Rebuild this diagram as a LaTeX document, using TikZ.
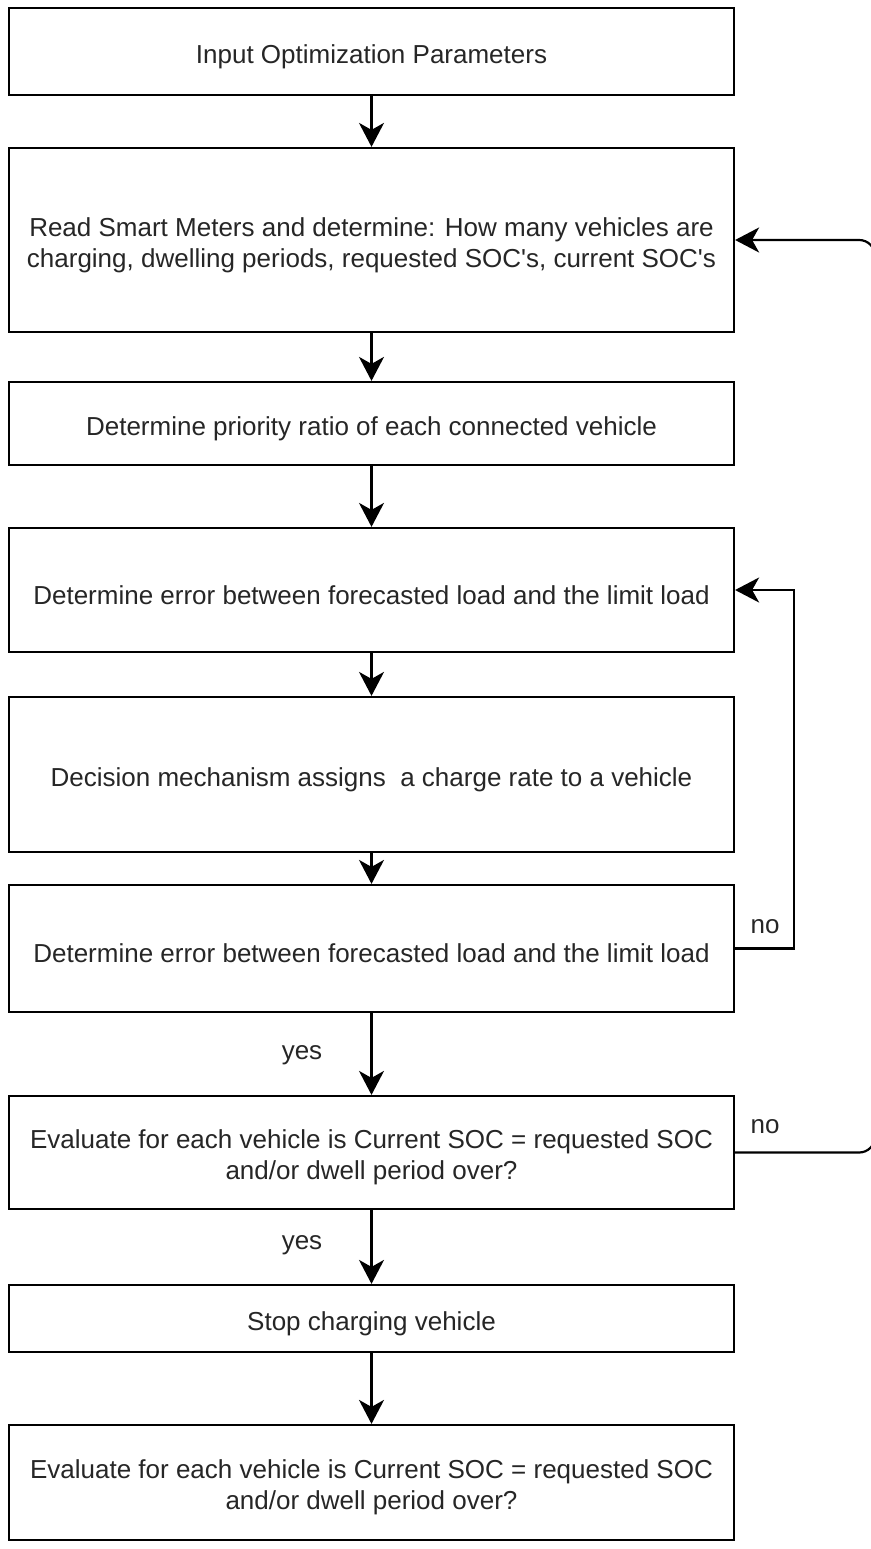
\documentclass[tikz,border=0pt]{standalone}
\usepackage{fontspec}
\setmainfont{Liberation Sans}[Ligatures=TeXOff]
\usetikzlibrary{arrows.meta}
\definecolor{ink}{HTML}{262626}
\tikzset{
  box/.style={draw=black, line width=2.2pt, fill=white, minimum width=725pt,
              inner sep=0pt},
  txt/.style={text=ink, inner sep=0pt, align=center,
              font=\fontsize{26}{31}\selectfont},
  arr/.style={draw=black, line width=2.2pt,
              -{Stealth[length=24pt,width=25pt,inset=7pt]}},
  lbl/.style={text=ink, inner sep=0pt, font=\fontsize{26}{31}\selectfont}
}
\begin{document}
\begin{tikzpicture}[x=1pt,y=-1pt]
\useasboundingbox (0,0) rectangle (870,1549);

% process steps, top to bottom
\node[box, minimum height=87pt]  (b1) at (371.5,51.5)   {};
\node[box, minimum height=184pt] (b2) at (371.5,240)    {};
\node[box, minimum height=83pt]  (b3) at (371.5,423.5)  {};
\node[box, minimum height=124pt] (b4) at (371.5,590)    {};
\node[box, minimum height=155pt] (b5) at (371.5,774.5)  {};
\node[box, minimum height=127pt] (b6) at (371.5,948.5)  {};
\node[box, minimum height=113pt] (b7) at (371.5,1152.5) {};
\node[box, minimum height=67pt]  (b8) at (371.5,1318.5) {};
\node[box, minimum height=115pt] (b9) at (371.5,1482.5) {};

% step texts, set a little below each box centre
\node[txt] (t1) at ([yshift=-5pt]b1.center) {Input Optimization Parameters};
\node[txt] (t2) at ([yshift=-5pt]b2.center) {Read Smart Meters and determine: How many vehicles are\\charging, dwelling periods, requested SOC's, current SOC's};
\node[txt] (t3) at ([yshift=-5pt]b3.center) {Determine priority ratio of each connected vehicle};
\node[txt] (t4) at ([yshift=-5pt]b4.center) {Determine error between forecasted load and the limit load};
\node[txt] (t5) at ([yshift=-5pt]b5.center) {Decision mechanism assigns\ \ a charge rate to a vehicle};
\node[txt] (t6) at ([yshift=-5pt]b6.center) {Determine error between forecasted load and the limit load};
\node[txt] (t7) at ([yshift=-5pt]b7.center) {Evaluate for each vehicle is Current SOC = requested SOC\\and/or dwell period over?};
\node[txt] (t8) at ([yshift=-5pt]b8.center) {Stop charging vehicle};
\node[txt] (t9) at ([yshift=-5pt]b9.center) {Evaluate for each vehicle is Current SOC = requested SOC\\and/or dwell period over?};

% main flow
\draw[arr] (b1) -- (b2);
\draw[arr] (b2) -- (b3);
\draw[arr] (b3) -- (b4);
\draw[arr] (b4) -- (b5);
\draw[arr] (b5) -- (b6);
\draw[arr] (b6) -- (b7);
\draw[arr] (b7) -- (b8);
\draw[arr] (b8) -- (b9);

% feedback loops
\draw[arr] (b6.east) -- ++(59,0) |- (b4.east);
\draw[arr, rounded corners=16pt] (b7.east) -- ++(140,0) |- (b2.east);

% branch labels
\node[lbl] (no1)  at (765,927)  {no};
\node[lbl] (no2)  at (765,1127) {no};
\node[lbl] (yes1) at (302,1055) {yes};
\node[lbl] (yes2) at (302,1245) {yes};
\end{tikzpicture}
\end{document}
